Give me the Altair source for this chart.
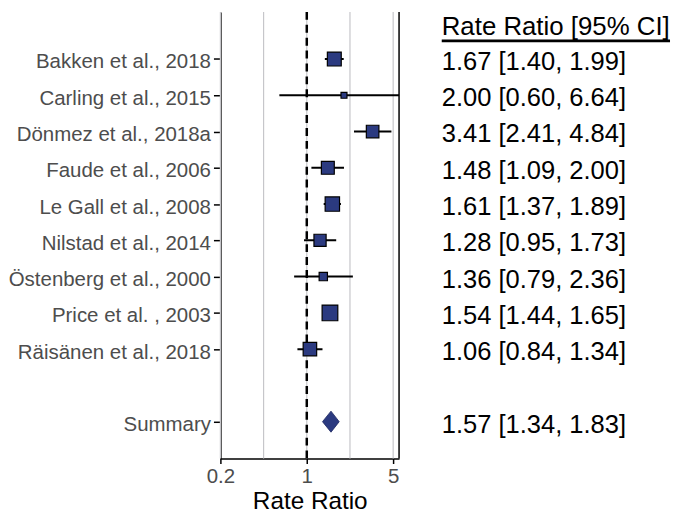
import altair as alt
import pandas as pd

# ---------------- data ----------------
studies = [
    "Bakken et al., 2018",
    "Carling et al., 2015",
    "Dönmez et al., 2018a",
    "Faude et al., 2006",
    "Le Gall et al., 2008",
    "Nilstad et al., 2014",
    "Östenberg et al., 2000",
    "Price et al. , 2003",
    "Räisänen et al., 2018",
]
rate_ratio = [1.67, 2.00, 3.41, 1.48, 1.61, 1.28, 1.36, 1.54, 1.06]
ci_low = [1.40, 0.60, 2.41, 1.09, 1.37, 0.95, 0.79, 1.44, 0.84]
ci_high = [1.99, 6.64, 4.84, 2.00, 1.89, 1.73, 2.36, 1.65, 1.34]
weights = [19.6, 3.6, 16.0, 16.9, 21.0, 15.0, 7.0, 25.0, 18.5]
row_pos = [11, 10, 9, 8, 7, 6, 5, 4, 3]

summary_label = "Summary"
summary_rr = 1.57
summary_low = 1.34
summary_high = 1.83
summary_pos = 1

x_ticks = [0.2, 1, 5]
x_grid = [0.2, 0.4472, 1, 2.236, 5]
x_domain = [0.2, 5.58]
y_domain = [-0.016, 12.30]
ref_line = [1]

header_text = "Rate Ratio [95% CI]"
header_pos = 11.95
underline_pos = 11.50

# ---------------- styles ----------------
FONT = "Liberation Sans"
NAVY = "#2b3a80"
GRID = "#c6c6ca"
LABEL_GREY = "#4d4d4d"
W, H = 180, 450
TABLE_W = 230
DIAMOND_HALF = 0.29

df = pd.DataFrame({
    "study": studies, "rr": rate_ratio, "lo": ci_low, "hi": ci_high,
    "weight": weights, "pos": row_pos,
})

all_pos = row_pos + [summary_pos]
all_labels = studies + [summary_label]
label_expr = ""
for p, lab in zip(all_pos, all_labels):
    label_expr += f"datum.value == {p} ? '{lab}' : "
label_expr += "''"

xscale = alt.Scale(type="log", domain=x_domain, nice=False)
yscale = alt.Scale(domain=y_domain, nice=False, zero=False)

xaxis = alt.Axis(
    values=x_ticks, format="~g", title="Rate Ratio", grid=False,
    labelFont=FONT, labelFontSize=20.6, labelColor=LABEL_GREY, labelFlush=False,
    labelPadding=3, tickSize=5, tickColor="black", tickWidth=1.5,
    domainColor="black", domainWidth=1.5,
    titleFont=FONT, titleFontSize=24.5, titleFontWeight="normal",
    titleColor="black", titleBaseline="alphabetic", titleY=50,
)
yaxis = alt.Axis(
    values=all_pos, labelExpr=label_expr, title=None, grid=False,
    labelFont=FONT, labelFontSize=20.6, labelColor=LABEL_GREY, labelLimit=0,
    labelPadding=3, labelOffset=3, tickSize=7, tickColor="black", tickWidth=1.5,
    domainColor="black", domainWidth=1.5,
)

grid = alt.Chart(pd.DataFrame({"g": x_grid})).mark_rule(
    color=GRID, strokeWidth=1.2
).encode(x=alt.X("g:Q", scale=xscale, axis=xaxis))

ref = alt.Chart(pd.DataFrame({"ref": ref_line})).mark_rule(
    color="black", strokeWidth=2.5, strokeDash=[8, 5]
).encode(x=alt.X("ref:Q", scale=xscale, axis=xaxis))

border = alt.Chart(pd.DataFrame({"edge": [x_domain[1]]})).mark_rule(
    color="black", strokeWidth=1.5
).encode(x=alt.X("edge:Q", scale=xscale, axis=xaxis))

ci = alt.Chart(df).mark_rule(color="black", strokeWidth=2, clip=True).encode(
    x=alt.X("lo:Q", scale=xscale, axis=xaxis),
    x2="hi:Q",
    y=alt.Y("pos:Q", scale=yscale, axis=yaxis),
)

squares = alt.Chart(df).mark_point(
    shape="square", filled=True, fill=NAVY, stroke="black", strokeWidth=1.2, opacity=1
).encode(
    x=alt.X("rr:Q", scale=xscale, axis=xaxis),
    y=alt.Y("pos:Q", scale=yscale, axis=yaxis),
    size=alt.Size("weight:Q", scale=alt.Scale(domain=[0, 25], range=[0, 250]), legend=None),
)

diamond_df = pd.DataFrame({
    "dx": [summary_low, summary_rr, summary_high],
    "dy_top": [summary_pos, summary_pos + DIAMOND_HALF, summary_pos],
    "dy_bot": [summary_pos, summary_pos - DIAMOND_HALF, summary_pos],
})
diamond = alt.Chart(diamond_df).mark_area(
    orient="vertical", color=NAVY, stroke="#1c2660", strokeWidth=0.8, opacity=1
).encode(
    x=alt.X("dx:Q", scale=xscale, axis=xaxis),
    y=alt.Y("dy_top:Q", scale=yscale, axis=yaxis),
    y2="dy_bot:Q",
)

forest = alt.layer(grid, ref, border, ci, squares, diamond).properties(width=W, height=H)

# ---------------- table ----------------
table_rows = [f"{r:.2f} [{l:.2f}, {h:.2f}]" for r, l, h in zip(rate_ratio, ci_low, ci_high)]
table_rows.append(f"{summary_rr:.2f} [{summary_low:.2f}, {summary_high:.2f}]")
table_df = pd.DataFrame({"pos": all_pos, "txt": table_rows})

tx = alt.Scale(domain=[0, 1], nice=False)

values_txt = alt.Chart(table_df).mark_text(
    align="left", baseline="middle", font=FONT, fontSize=25.7, color="black", dy=3
).encode(
    x=alt.X(datum=0, scale=tx, axis=None),
    y=alt.Y("pos:Q", scale=yscale, axis=None),
    text="txt:N",
)
header = alt.Chart(pd.DataFrame({"pos": [header_pos], "txt": [header_text]})).mark_text(
    align="left", baseline="middle", font=FONT, fontSize=26, color="black", dy=3
).encode(
    x=alt.X(datum=0, scale=tx, axis=None),
    y=alt.Y("pos:Q", scale=yscale, axis=None),
    text="txt:N",
)
underline = alt.Chart(pd.DataFrame({"pos": [underline_pos]})).mark_rule(
    color="black", strokeWidth=2.6
).encode(
    x=alt.X(datum=0, scale=tx, axis=None),
    x2=alt.X2(datum=1),
    y=alt.Y("pos:Q", scale=yscale, axis=None),
)
table = alt.layer(underline, header, values_txt).properties(width=TABLE_W, height=H)

chart = alt.hconcat(forest, table, spacing=40).properties(
    padding=0, background="white"
).configure_view(stroke=None)

chart.save("out.html", embed_options={"renderer": "svg", "actions": False})
